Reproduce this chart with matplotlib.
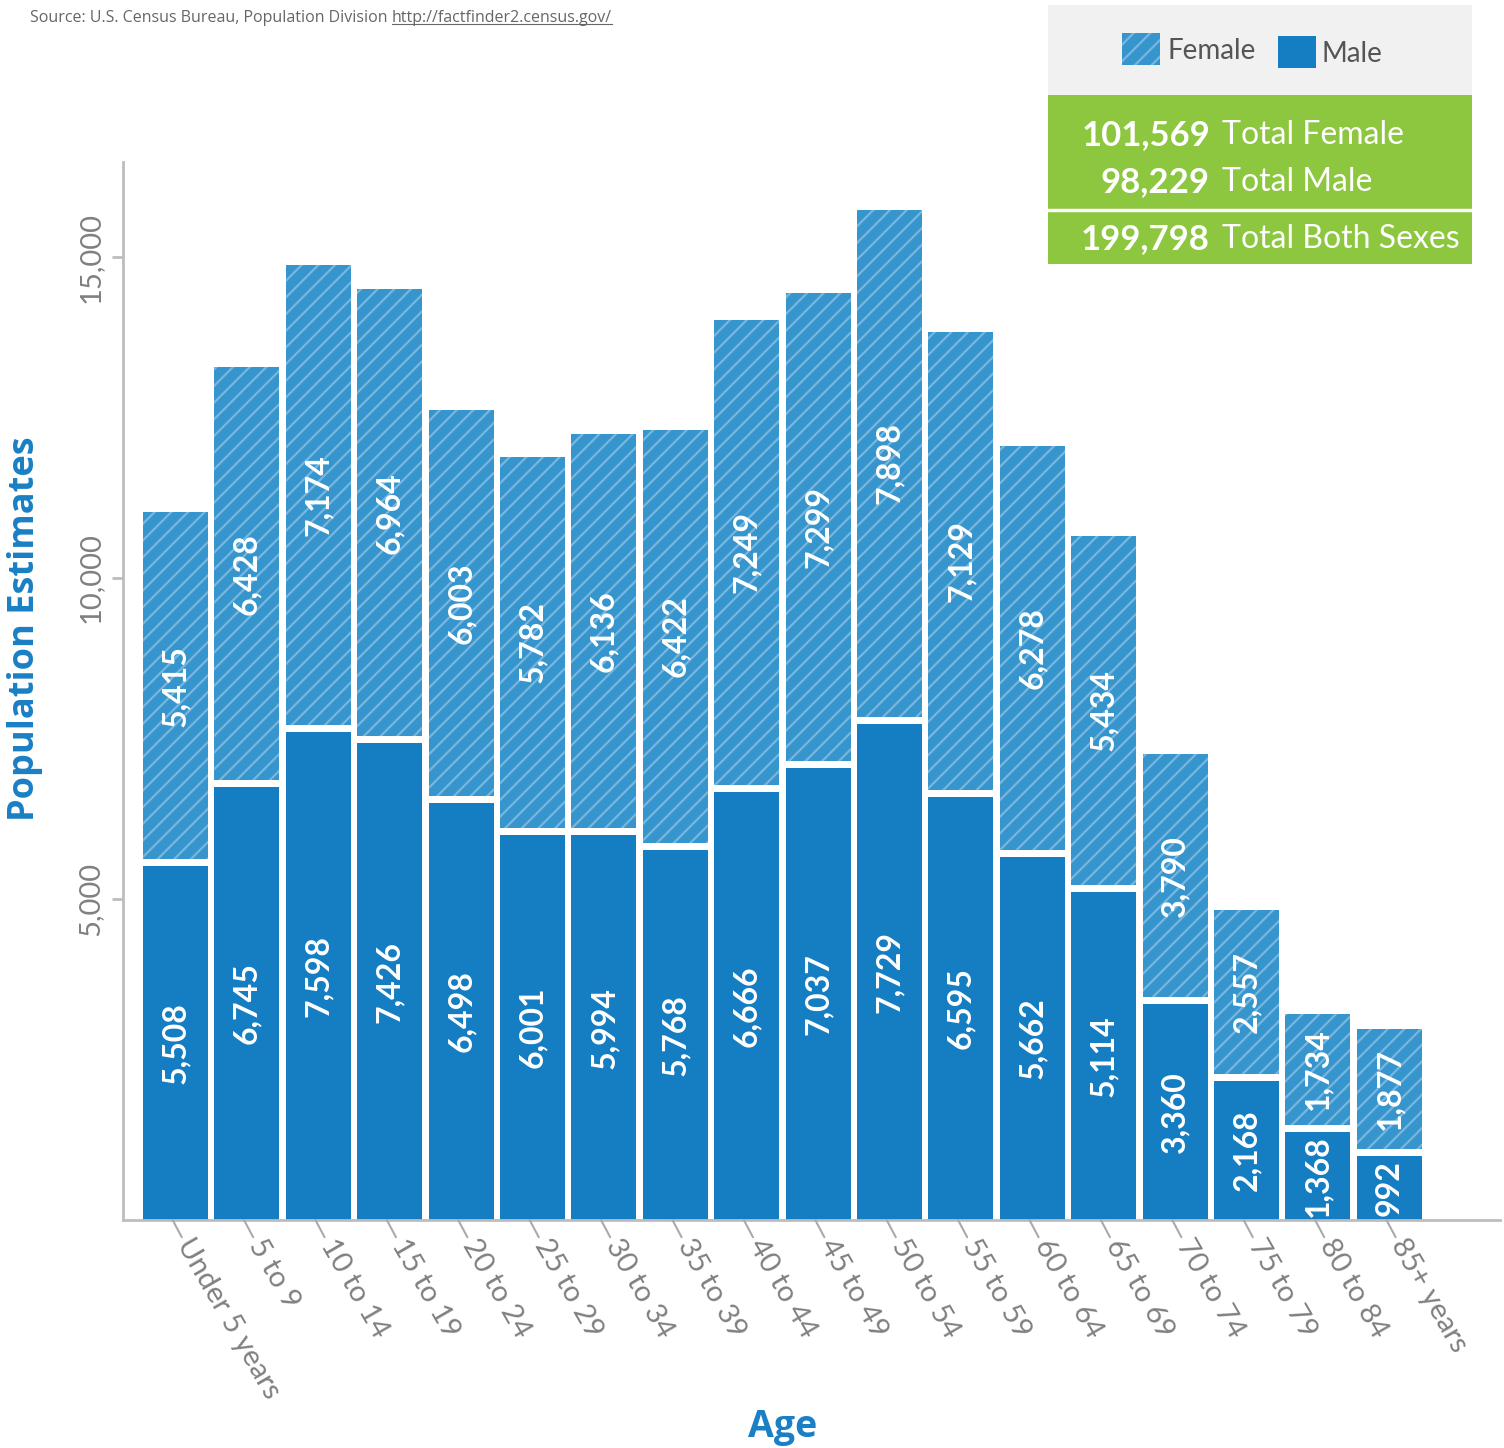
import matplotlib
matplotlib.use("Agg")
import matplotlib.pyplot as plt
from matplotlib.patches import Rectangle
from matplotlib.lines import Line2D
import numpy as np

# Population by age group
age_groups = ["Under 5 years", "5 to 9", "10 to 14", "15 to 19", "20 to 24", "25 to 29",
              "30 to 34", "35 to 39", "40 to 44", "45 to 49", "50 to 54", "55 to 59",
              "60 to 64", "65 to 69", "70 to 74", "75 to 79", "80 to 84", "85+ years"]
male = [5508, 6745, 7598, 7426, 6498, 6001, 5994, 5768, 6666, 7037, 7729, 6595,
        5662, 5114, 3360, 2168, 1368, 992]
female = [5415, 6428, 7174, 6964, 6003, 5782, 6136, 6422, 7249, 7299, 7898, 7129,
          6278, 5434, 3790, 2557, 1734, 1877]
y_ticks = [5000, 10000, 15000]

MALE_C = "#157dc1"
FEMALE_C = "#3595cc"
STRIPE_C = "#78b6df"
BLUE_TXT = "#1a7fc4"
GREEN = "#8dc63f"
GRAY_TXT = "#808080"
AXIS_C = "#bdbdbd"
FONT = "Lato"

plt.rcParams["hatch.color"] = STRIPE_C
plt.rcParams["hatch.linewidth"] = 1.6
plt.rcParams["font.family"] = [FONT, "DejaVu Sans"]

W, H = 1504, 1448
fig = plt.figure(figsize=(W / 100, H / 100), dpi=100)
fig.patch.set_facecolor("white")

ax_top_px, ax_bot_px = 162, 1220
ymax = 16480
ax = fig.add_axes([123 / W, 1 - ax_bot_px / H, (1500 - 123) / W,
                   (ax_bot_px - ax_top_px) / H])
x = np.arange(len(age_groups))
male_a = np.array(male)
female_a = np.array(female)
bw = 0.91
# white gap between stacked segments, 7 px expressed in data units
gap = 7 * ymax / (ax_bot_px - ax_top_px)

ax.bar(x, male_a, width=bw, color=MALE_C, linewidth=0, zorder=2)
ax.bar(x, female_a, width=bw, bottom=male_a + gap, color=FEMALE_C, hatch="//",
       linewidth=0, zorder=2)

lab_kw = dict(rotation=90, ha="center", va="center", color="white", fontsize=23,
              fontweight="bold", zorder=4)
for xi, m, f in zip(x, male_a, female_a):
    ax.text(xi, m / 2, f"{m:,}", **lab_kw)
    ax.text(xi, m + gap + f / 2, f"{f:,}", **lab_kw)

ax.set_xlim(-0.735, 18.55)
ax.set_ylim(0, ymax)
ax.set_yticks(y_ticks)
ax.set_yticklabels([f"{v:,}" for v in y_ticks], rotation=90, va="center",
                   fontsize=21, color=GRAY_TXT)
ax.tick_params(axis="y", length=8, width=2, color=AXIS_C, pad=6)
ax.set_xticks([])

for s in ["top", "right"]:
    ax.spines[s].set_visible(False)
for s in ["left", "bottom"]:
    ax.spines[s].set_color(AXIS_C)
    ax.spines[s].set_linewidth(2)
ax.set_facecolor("none")

# slanted category ticks and labels
ang = np.deg2rad(62)
for xi, lab in zip(x, age_groups):
    tick_len = 14
    ax.annotate("", xy=(xi - 0.04, 0), xycoords=("data", "axes fraction"),
                xytext=(tick_len * np.cos(ang), -tick_len * np.sin(ang)),
                textcoords="offset points",
                arrowprops=dict(arrowstyle="-", color="#aaaaaa", lw=1.5,
                                shrinkA=0, shrinkB=0))
    off = tick_len + 3
    ax.annotate(lab, xy=(xi - 0.04, 0), xycoords=("data", "axes fraction"),
                xytext=(off * np.cos(ang), -off * np.sin(ang)),
                textcoords="offset points", rotation=-60,
                rotation_mode="anchor", ha="left", va="center",
                fontsize=21, color=GRAY_TXT)

fig.text(25 / W, 1 - 629 / H, "Population Estimates", rotation=90, ha="center",
         va="center", fontsize=26, fontweight="bold", color=BLUE_TXT,
         family=["Open Sans", "DejaVu Sans"])
fig.text(783 / W, 1 - 1427 / H, "Age", ha="center", va="center", fontsize=27,
         fontweight="bold", color=BLUE_TXT, family=["Open Sans", "DejaVu Sans"])

# source line
src_kw = dict(ha="left", va="center", fontsize=11.5, color="#666666",
              family=["Open Sans", "DejaVu Sans"])
src = fig.text(30 / W, 1 - 18 / H, "Source: U.S. Census Bureau, Population Division ",
               **src_kw)
fig.canvas.draw()
r = fig.canvas.get_renderer()
bb = src.get_window_extent(r)
url = fig.text(bb.x1 / W, 1 - 18 / H, "http://factfinder2.census.gov/", **src_kw)
ub = url.get_window_extent(r)
fig.add_artist(Line2D([ub.x0 / W, ub.x1 / W], [(ub.y0 + 2) / H, (ub.y0 + 2) / H],
                      transform=fig.transFigure, color="#666666", lw=0.8))

# legend and totals panel
pan = fig.add_axes([1048 / W, 1 - 264 / H, 424 / W, 259 / H])
pan.set_xlim(0, 424)
pan.set_ylim(259, 0)
pan.axis("off")
pan.add_patch(Rectangle((0, 0), 424, 90, facecolor="#f1f1f1", linewidth=0))
pan.add_patch(Rectangle((0, 90), 424, 169, facecolor=GREEN, linewidth=0))
pan.plot([0, 422], [205, 205], color="white", lw=2.5)

pan.add_patch(Rectangle((74, 28), 38, 32, facecolor=FEMALE_C, hatch="//", linewidth=0))
pan.text(120, 46, "Female", ha="left", va="center", fontsize=20, color="#555555")
pan.add_patch(Rectangle((230, 31), 38, 32, facecolor=MALE_C, linewidth=0))
pan.text(274, 49, "Male", ha="left", va="center", fontsize=20, color="#555555")

tot_f = int(female_a.sum())
tot_m = int(male_a.sum())
rows = [(f"{tot_f:,}", "Total Female", 130), (f"{tot_m:,}", "Total Male", 177),
        (f"{tot_f + tot_m:,}", "Total Both Sexes", 234)]
for num, lab, yy in rows:
    pan.text(162, yy, num, ha="right", va="center", fontsize=25, fontweight="bold",
             color="white")
    pan.text(174, yy, lab, ha="left", va="center", fontsize=23, color="white")

fig.savefig("out.png", dpi=100, facecolor="white")
